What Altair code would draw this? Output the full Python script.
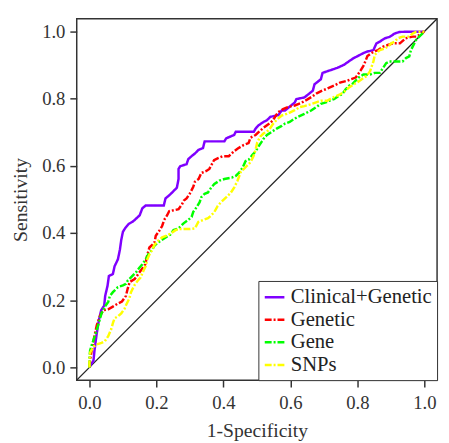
import altair as alt
import pandas as pd

models = ["Clinical+Genetic", "Genetic", "Gene", "SNPs"]
colors = ["#7f00ff", "#ff0000", "#00ff00", "#ffff00"]
dashes = [[1, 0], [7, 2, 2, 2], [7, 2, 2, 2], [7, 2, 2, 2]]

cg_x = [0, 0.003, 0.012, 0.015, 0.021, 0.028, 0.035, 0.044, 0.047, 0.054, 0.058, 0.070, 0.075, 0.085,
        0.091, 0.095, 0.100, 0.107, 0.117, 0.129, 0.135, 0.150, 0.158, 0.168, 0.222, 0.227, 0.241,
        0.252, 0.261, 0.266, 0.266, 0.271, 0.290, 0.295, 0.305, 0.315, 0.326, 0.339, 0.344, 0.403,
        0.408, 0.432, 0.437, 0.491, 0.496, 0.505, 0.520, 0.530, 0.540, 0.564, 0.574, 0.584, 0.613,
        0.618, 0.642, 0.667, 0.672, 0.691, 0.696, 0.711, 0.740, 0.760, 0.774, 0.789, 0.799, 0.818,
        0.828, 0.848, 0.857, 0.867, 0.882, 0.896, 0.911, 0.926, 1.0]
cg_y = [0, 0.006, 0.020, 0.050, 0.096, 0.140, 0.170, 0.184, 0.213, 0.243, 0.272, 0.278, 0.301, 0.322,
        0.351, 0.380, 0.404, 0.415, 0.427, 0.434, 0.439, 0.453, 0.474, 0.482, 0.482, 0.503, 0.515,
        0.526, 0.535, 0.561, 0.591, 0.599, 0.605, 0.620, 0.629, 0.637, 0.648, 0.653, 0.673, 0.673,
        0.682, 0.692, 0.702, 0.702, 0.711, 0.721, 0.731, 0.736, 0.746, 0.751, 0.765, 0.765, 0.789,
        0.799, 0.804, 0.824, 0.843, 0.858, 0.877, 0.882, 0.892, 0.901, 0.911, 0.921, 0.926, 0.936,
        0.940, 0.945, 0.965, 0.970, 0.980, 0.984, 0.994, 0.999, 1.0]

gt_x = [0, 0.002, 0.007, 0.015, 0.022, 0.031, 0.041, 0.056, 0.070, 0.085, 0.097, 0.109, 0.114, 0.120,
        0.135, 0.150, 0.167, 0.173, 0.179, 0.194, 0.198, 0.208, 0.217, 0.223, 0.232, 0.238, 0.252,
        0.266, 0.276, 0.282, 0.290, 0.300, 0.310, 0.315, 0.326, 0.334, 0.349, 0.358, 0.372, 0.384,
        0.399, 0.416, 0.431, 0.443, 0.460, 0.475, 0.481, 0.496, 0.510, 0.519, 0.531, 0.540, 0.548,
        0.563, 0.578, 0.592, 0.613, 0.633, 0.651, 0.666, 0.680, 0.695, 0.710, 0.730, 0.748, 0.768,
        0.780, 0.795, 0.809, 0.818, 0.824, 0.830, 0.842, 0.853, 0.862, 0.877, 0.891, 0.906, 0.927,
        0.944, 0.965, 0.977, 1.0]
gt_y = [0, 0.023, 0.053, 0.094, 0.126, 0.152, 0.170, 0.173, 0.181, 0.190, 0.196, 0.213, 0.234, 0.254,
        0.263, 0.284, 0.307, 0.336, 0.357, 0.371, 0.392, 0.406, 0.421, 0.439, 0.453, 0.465, 0.468,
        0.471, 0.485, 0.497, 0.503, 0.518, 0.538, 0.553, 0.561, 0.579, 0.585, 0.591, 0.617, 0.623,
        0.629, 0.629, 0.643, 0.652, 0.662, 0.668, 0.684, 0.692, 0.705, 0.713, 0.722, 0.728, 0.736,
        0.760, 0.769, 0.775, 0.780, 0.788, 0.798, 0.807, 0.817, 0.824, 0.830, 0.839, 0.848, 0.853,
        0.858, 0.863, 0.883, 0.898, 0.912, 0.927, 0.936, 0.942, 0.945, 0.955, 0.960, 0.965, 0.965,
        0.980, 0.985, 0.985, 1.0]

ge_x = [0, 0, 0.002, 0.007, 0.017, 0.026, 0.036, 0.046, 0.056, 0.061, 0.070, 0.085, 0.100, 0.109,
        0.114, 0.124, 0.139, 0.149, 0.158, 0.168, 0.178, 0.188, 0.193, 0.202, 0.217, 0.232, 0.241,
        0.251, 0.266, 0.281, 0.295, 0.305, 0.310, 0.320, 0.329, 0.334, 0.344, 0.354, 0.364, 0.373,
        0.388, 0.403, 0.425, 0.437, 0.447, 0.457, 0.466, 0.476, 0.486, 0.496, 0.505, 0.515, 0.520,
        0.530, 0.545, 0.559, 0.574, 0.584, 0.598, 0.613, 0.623, 0.642, 0.662, 0.681, 0.691, 0.706,
        0.716, 0.730, 0.745, 0.755, 0.765, 0.774, 0.784, 0.794, 0.804, 0.818, 0.838, 0.852, 0.867,
        0.877, 0.886, 0.896, 0.926, 0.935, 0.945, 0.955, 0.960, 0.970, 0.975, 0.984, 1.0]
ge_y = [0, 0.029, 0.050, 0.067, 0.096, 0.126, 0.161, 0.181, 0.195, 0.213, 0.224, 0.239, 0.244, 0.249,
        0.258, 0.268, 0.283, 0.297, 0.307, 0.322, 0.341, 0.351, 0.361, 0.370, 0.380, 0.390, 0.395,
        0.409, 0.414, 0.429, 0.439, 0.448, 0.463, 0.477, 0.492, 0.507, 0.517, 0.521, 0.536, 0.546,
        0.556, 0.561, 0.565, 0.570, 0.580, 0.594, 0.614, 0.619, 0.632, 0.643, 0.658, 0.673, 0.681,
        0.692, 0.702, 0.711, 0.719, 0.726, 0.731, 0.741, 0.746, 0.755, 0.765, 0.778, 0.785, 0.789,
        0.794, 0.799, 0.809, 0.814, 0.828, 0.838, 0.843, 0.853, 0.863, 0.872, 0.872, 0.877, 0.877,
        0.892, 0.906, 0.911, 0.911, 0.911, 0.921, 0.926, 0.945, 0.965, 0.975, 0.984, 1.0]

sn_x = [0, 0, 0.002, 0.012, 0.021, 0.036, 0.046, 0.056, 0.065, 0.070, 0.075, 0.085, 0.095, 0.105,
        0.109, 0.119, 0.124, 0.134, 0.144, 0.153, 0.163, 0.168, 0.173, 0.179, 0.188, 0.193, 0.202,
        0.217, 0.232, 0.246, 0.256, 0.266, 0.281, 0.300, 0.315, 0.325, 0.339, 0.354, 0.364, 0.373,
        0.383, 0.393, 0.408, 0.422, 0.432, 0.442, 0.452, 0.466, 0.481, 0.490, 0.496, 0.501, 0.510,
        0.520, 0.530, 0.540, 0.549, 0.559, 0.574, 0.589, 0.598, 0.613, 0.628, 0.642, 0.662, 0.677,
        0.691, 0.710, 0.721, 0.735, 0.750, 0.765, 0.774, 0.789, 0.799, 0.813, 0.828, 0.838, 0.843,
        0.848, 0.852, 0.867, 0.882, 0.891, 0.901, 0.911, 0.921, 0.935, 0.955, 0.965, 0.975, 1.0]
sn_y = [0, 0.023, 0.044, 0.061, 0.068, 0.073, 0.078, 0.093, 0.114, 0.132, 0.146, 0.152, 0.161, 0.175,
        0.185, 0.205, 0.224, 0.244, 0.258, 0.268, 0.292, 0.302, 0.322, 0.336, 0.351, 0.363, 0.375,
        0.387, 0.393, 0.401, 0.408, 0.412, 0.412, 0.412, 0.414, 0.433, 0.439, 0.444, 0.453, 0.463,
        0.481, 0.492, 0.506, 0.520, 0.535, 0.556, 0.582, 0.596, 0.611, 0.629, 0.648, 0.670, 0.687,
        0.697, 0.702, 0.713, 0.726, 0.737, 0.750, 0.755, 0.759, 0.766, 0.775, 0.778, 0.784, 0.789,
        0.794, 0.794, 0.801, 0.807, 0.814, 0.824, 0.833, 0.843, 0.848, 0.858, 0.868, 0.882, 0.897,
        0.911, 0.931, 0.945, 0.950, 0.955, 0.965, 0.970, 0.980, 0.985, 0.985, 0.994, 0.999, 1.0]

x_ticks = [0, 0.2, 0.4, 0.6, 0.8, 1.0]
y_ticks = [0, 0.2, 0.4, 0.6, 0.8, 1.0]
axis_extent = [-0.038, 1.038]

series = [(models[0], cg_x, cg_y), (models[1], gt_x, gt_y), (models[2], ge_x, ge_y), (models[3], sn_x, sn_y)]
rows = []
for name, xs, ys in series:
    for i, (a, b) in enumerate(zip(xs, ys)):
        rows.append({"model": name, "x": a, "y": b, "order": i})
df = pd.DataFrame(rows)
diag = pd.DataFrame({"x": axis_extent, "y": axis_extent})

FONT = "Times New Roman, Liberation Serif, serif"
xscale = alt.Scale(domain=axis_extent, nice=False, zero=False)
yscale = alt.Scale(domain=axis_extent, nice=False, zero=False)

diag_layer = alt.Chart(diag).mark_line(color="#222", strokeWidth=1.3, clip=True).encode(
    x=alt.X("x:Q", scale=xscale,
            axis=alt.Axis(values=x_ticks, format=".1f", title="1-Specificity",
                          labelFont=FONT, titleFont=FONT)),
    y=alt.Y("y:Q", scale=yscale,
            axis=alt.Axis(values=y_ticks, format=".1f", title="Sensitivity",
                          labelFont=FONT, titleFont=FONT)),
)

leg = alt.Legend(title=None, orient="bottom-right", offset=0, labelFont=FONT, labelFontSize=21)
curves = alt.Chart(df).mark_line(strokeWidth=2.5, clip=True).encode(
    x=alt.X("x:Q", scale=xscale),
    y=alt.Y("y:Q", scale=yscale),
    order="order:Q",
    color=alt.Color("model:N", scale=alt.Scale(domain=models, range=colors), legend=leg),
    strokeDash=alt.StrokeDash("model:N", scale=alt.Scale(domain=models, range=dashes), legend=leg),
)

chart = alt.layer(diag_layer, curves).properties(
    width=367, height=368,
    autosize=alt.AutoSizeParams(type="none"),
    padding={"left": 70, "top": 7, "right": 4, "bottom": 60},
).configure(font=FONT).configure_view(stroke="#333", strokeWidth=1.5).configure_axis(
    domain=False, grid=False, labelFont=FONT, labelFontSize=19, labelColor="#333",
    tickColor="#333", tickWidth=1.5, tickSize=7, labelPadding=5,
    titleFont=FONT, titleFontSize=20, titleFontWeight="normal", titleColor="#333",
).configure_axisX(labelPadding=7, titlePadding=8).configure_axisY(titlePadding=11).configure_legend(
    orient="bottom-right", offset=0, padding=5, strokeColor="#333", fillColor="white",
    labelFont=FONT, labelFontSize=21, labelColor="#222",
    symbolType="stroke", symbolSize=400, symbolStrokeWidth=2.5,
    rowPadding=1, labelOffset=5,
)

chart.save("out.html", embed_options={"renderer": "svg", "actions": False})
